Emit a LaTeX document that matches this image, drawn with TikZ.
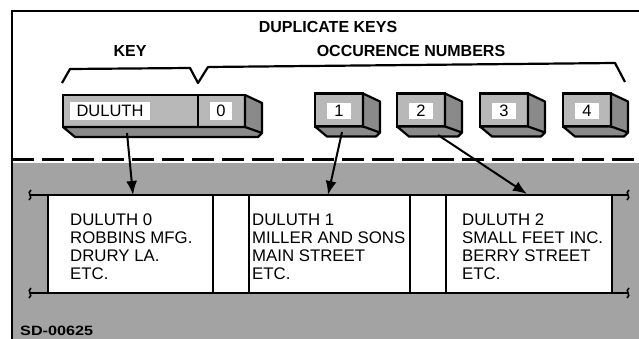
\documentclass[tikz,border=0pt]{standalone}
\usepackage{fontspec}
\setmainfont{Liberation Sans}
\usetikzlibrary{arrows.meta,calc}
\tikzset{
  stip/.style={fill=black!36},
  front/.style={fill=black!28, draw=black, line width=2.2pt, outer sep=0pt, inner sep=0pt},
  sideface/.style={fill=black!46, draw=black, line width=2.2pt, line join=round},
  lbl/.style={fill=white, inner xsep=4pt, inner ysep=2pt, font=\fontsize{16.5}{18}\selectfont},
  ttl/.style={font=\fontsize{16}{17}\selectfont\bfseries, inner sep=0pt},
  rec/.style={fill=white, draw=black, line width=2.2pt, outer sep=0pt, inner sep=0pt},
  rectext/.style={font=\fontsize{16.8}{18}\selectfont, align=left, anchor=north west, inner sep=0pt},
  ptr/.style={line width=2pt, -{Latex[length=14pt,width=11pt]}},
  bline/.style={line width=2.2pt},
}
\newcommand\sidefaces[1]{%
  \filldraw[sideface] (#1.north east) -- ($(#1.north east)+(17,8)$) -- ($(#1.south east)+(17,6)$)
     -- ($(#1.south east)+(13,10)$) -- ($(#1.south west)+(12,10)$) -- (#1.south west)
     -- (#1.south east) -- cycle;
  \draw[sideface] (#1.south east) -- ($(#1.south east)+(17,6)$);
}
\begin{document}
\begin{tikzpicture}[x=1pt,y=-1pt]
\useasboundingbox (0,0) rectangle (639,339);
% lower stippled region
\fill[stip] (12,163) rectangle (639,339);
% frame
\draw[line width=2.6pt] (12,339) -- (12,11) -- (639,11);
% dashed divider
\draw[line width=3pt, dash pattern=on 22pt off 8pt] (12,160) -- (639,160);
% titles
\node[ttl] (dup) at (328,27) {DUPLICATE KEYS};
\node[ttl] (key) at (130,51) {KEY};
\node[ttl] (occ) at (411,51) {OCCURENCE NUMBERS};
% brace
\draw[line width=2.2pt, line join=round] (62,83) -- (70,69) -- (190,68) -- (198,83) -- (208,67) -- (615,63) -- (625,82);
% key box
\node[front, minimum width=182pt, minimum height=32pt] (k0) at (154,111) {};
\sidefaces{k0}
\draw[line width=2.8pt] (198,95) -- (198,127);
\node[lbl, minimum width=80pt, minimum height=18pt] (kname) at (110,111) {DULUTH};
\node[lbl, minimum width=22pt, minimum height=18pt] (kocc) at (221,111) {0};
% occurrence boxes
\foreach \i/\x in {1/339,2/421,3/504,4/587}{
  \node[front, minimum width=48pt, minimum height=33pt] (b\i) at (\x,110) {};
  \sidefaces{b\i}
  \node[lbl, minimum width=24pt, minimum height=16pt] (n\i) at (\x,111) {\i};
}
% record band
\node[rec, minimum width=165pt, minimum height=98pt] (r1) at (130.5,244) {};
\node[rec, minimum width=36pt, minimum height=98pt] (g1) at (231,244) {};
\node[rec, minimum width=161pt, minimum height=98pt] (r2) at (329.5,244) {};
\node[rec, minimum width=36pt, minimum height=98pt] (g2) at (428,244) {};
\node[rec, minimum width=166pt, minimum height=98pt] (r3) at (529,244) {};
\coordinate (lt) at (30,195); \coordinate (rt) at (628,195);
\coordinate (lb) at (30,293); \coordinate (rb) at (628,293);
\draw[bline] (lt) -- (rt);
\draw[bline] (lb) -- (rb);
\foreach \c in {lt,lb,rt,rb}{
  \draw[line width=1.6pt] ($(\c)+(1,-5)$) .. controls ($(\c)+(-4,-2)$) and ($(\c)+(4,2)$) .. ($(\c)+(-1,5)$);
}
\node[rectext] (t1) at (70,214) {DULUTH 0\\ROBBINS MFG.\\DRURY LA.\\ETC.};
\node[rectext] (t2) at (252,214) {DULUTH 1\\MILLER AND SONS\\MAIN STREET\\ETC.};
\node[rectext] (t3) at (462,214) {DULUTH 2\\SMALL FEET INC.\\BERRY STREET\\ETC.};
% pointers
\coordinate (s0) at (127,133); \coordinate (e0) at (133,195);
\coordinate (s1) at (342,132); \coordinate (e1) at (328,195);
\coordinate (s2) at (438,135); \coordinate (e2) at (527,194);
\draw[ptr] (s0) -- (e0);
\draw[ptr] (s1) -- (e1);
\draw[ptr] (s2) -- (e2);
% id
\node[inner sep=0pt, anchor=west] (sd) at (20,331) {\scalebox{1.2}[1]{\fontsize{13.5}{14}\selectfont\bfseries SD-00625}};
\end{tikzpicture}
\end{document}
